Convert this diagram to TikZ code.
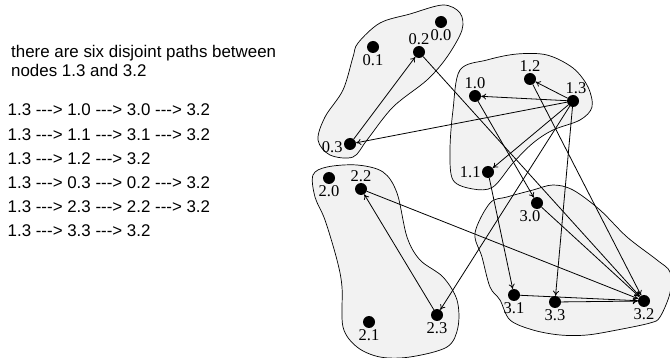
\documentclass[tikz,border=0pt]{standalone}
\usepackage{fontspec}
\setmainfont{Liberation Serif}
\setsansfont[Ligatures=TeXOff]{Liberation Sans}
\usetikzlibrary{arrows.meta}

\begin{document}
\begin{tikzpicture}[x=1pt, y=-1pt,
    blob/.style={draw, line width=0.7pt, fill=black!5},
    vtx/.style={circle, fill, inner sep=0pt, minimum size=12pt},
    lbl/.style={inner sep=1pt, font=\fontsize{16.5}{16.5}\selectfont},
    arc/.style={line width=0.8pt, -{To[length=5pt, width=6pt]}},
    txt/.style={anchor=base west, inner sep=0pt, font=\sffamily\fontsize{16.9}{20}\selectfont}]
  \useasboundingbox (0,0) rectangle (670,358);

  % the four groups
  \draw[blob] plot[smooth cycle, tension=0.55] coordinates {(358,43) (380,23) (410,14) (443,5) (460,13)
    (462,30) (447,57) (427,80) (393,107) (367,140) (353,157) (330,155) (318,140) (325,117) (343,90) (353,57)};
  \draw[blob] plot[smooth cycle, tension=0.55] coordinates {(460,70) (487,60) (517,54) (547,55) (573,68)
    (588,87) (592,107) (580,120) (553,130) (533,143) (513,163) (493,187) (473,189) (453,180) (450,150) (453,110)};
  \draw[blob] plot[smooth cycle, tension=0.55] coordinates {(313,175) (327,167) (357,165) (383,172) (397,193)
    (407,237) (420,260) (443,277) (457,300) (458,327) (447,347) (410,357) (380,357) (357,347) (343,327)
    (342,287) (337,260) (325,220) (315,197)};
  \draw[blob] plot[smooth cycle, tension=0.55] coordinates {(475,233) (490,203) (507,197) (533,190) (553,185)
    (573,190) (600,210) (627,237) (657,260) (670,272) (670,293) (660,317) (650,323) (617,330) (587,335)
    (560,335) (533,330) (510,320) (500,300) (490,287) (482,257)};

  % vertices
  \node[vtx, label={[lbl]below:0.0}] (n00) at (441,22) {};
  \node[vtx, label={[lbl]below:0.1}] (n01) at (373,47) {};
  \node[vtx, label={[lbl]above:0.2}] (n02) at (419,52) {};
  \node[vtx, label={[lbl, yshift=-3pt]left:0.3}] (n03) at (350,144) {};
  \node[vtx, label={[lbl]above:1.0}] (n10) at (475,96) {};
  \node[vtx, label={[lbl]left:1.1}] (n11) at (488,172) {};
  \node[vtx, label={[lbl]above:1.2}] (n12) at (530,79) {};
  \node[vtx, label={[lbl, xshift=3pt]above:1.3}] (n13) at (573,101) {};
  \node[vtx, label={[lbl]below:2.0}] (n20) at (329,178) {};
  \node[vtx, label={[lbl]below:2.1}] (n21) at (369,322) {};
  \node[vtx, label={[lbl]above:2.2}] (n22) at (361,189) {};
  \node[vtx, label={[lbl]below:2.3}] (n23) at (437,315) {};
  \node[vtx, label={[lbl, xshift=-7pt]below:3.0}] (n30) at (537,203) {};
  \node[vtx, label={[lbl]below:3.1}] (n31) at (514,295) {};
  \node[vtx, label={[lbl]below:3.2}] (n32) at (644,301) {};
  \node[vtx, label={[lbl]below:3.3}] (n33) at (555,302) {};

  % the six paths
  \draw[arc] (n13) -- (n10); \draw[arc] (n10) -- (n30); \draw[arc] (n30) -- (n32);
  \draw[arc] (n13) -- (n11); \draw[arc] (n11) -- (n31); \draw[arc] (n31) -- (n32);
  \draw[arc] (n13) -- (n12); \draw[arc] (n12) -- (n32);
  \draw[arc] (n13) -- (n03); \draw[arc] (n03) -- (n02); \draw[arc] (n02) -- (n32);
  \draw[arc] (n13) -- (n23); \draw[arc] (n23) -- (n22); \draw[arc] (n22) -- (n32);
  \draw[arc] (n13) -- (n33); \draw[arc] (n33) -- (n32);

  \node[txt] (head1) at (11,57.3) {there are six disjoint paths between};
  \node[txt] (head2) at (11,76.7) {nodes 1.3 and 3.2};
  \foreach \p [count=\i from 0] in {1.0 ---> 3.0 ---> 3.2, 1.1 ---> 3.1 ---> 3.2, 1.2 ---> 3.2,
      0.3 ---> 0.2 ---> 3.2, 2.3 ---> 2.2 ---> 3.2, 3.3 ---> 3.2}
    \node[txt] (row\i) at (7.5,116+24.1*\i) {1.3 ---> \p};
\end{tikzpicture}
\end{document}
